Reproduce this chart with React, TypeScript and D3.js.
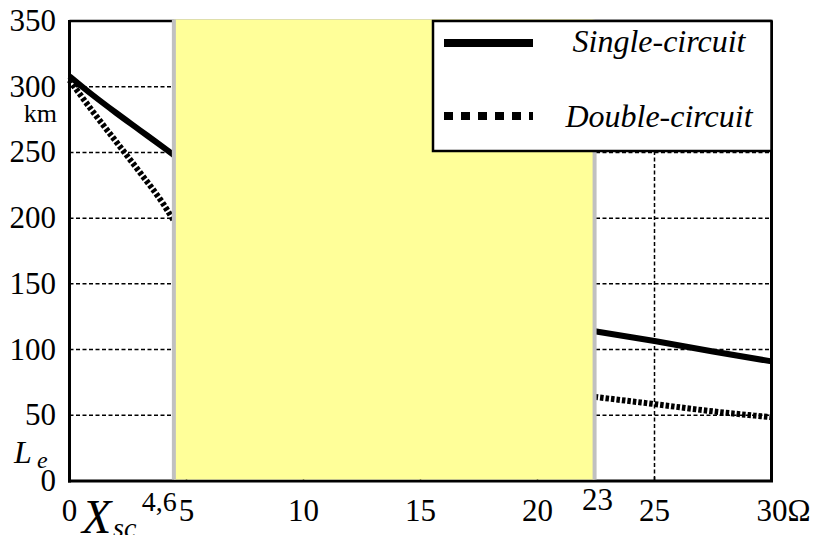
import React from "react";
import * as d3 from "d3";

// ---- data ----
const yTicks = [0, 50, 100, 150, 200, 250, 300, 350];
const xTicks = [0, 5, 10, 15, 20, 25, 30];
const xTickLabels = ["0", "5", "10", "15", "20", "25", "30Ω"];
const gridX = [25];
const gridY = [50, 100, 150, 200, 250, 300];

// excluded (shaded) band in Xsc, Ω
const bandStart = 4.46;
const bandEnd = 22.44;
const bandLabels = ["4,6", "23"];

// Single-circuit: left and right segments
const singleLeftX = [0, 1, 2, 3, 4, 4.46];
const singleLeftY = [308, 293.5, 280, 267, 254, 248];
const singleRightX = [22.44, 25, 27.5, 30];
const singleRightY = [114, 106.5, 98.5, 91];

// Double-circuit
const doubleLeftX = [0, 1, 2, 3, 4, 4.46];
const doubleLeftY = [305, 281, 258, 235, 211, 198];
const doubleRightX = [22.44, 25, 27.5, 30];
const doubleRightY = [64, 58.5, 53, 48.5];

const legendLabels = ["Single-circuit", "Double-circuit"];

const W = 817;
const H = 535;
const serif = "Liberation Serif, DejaVu Serif, Times New Roman, serif";

export default function App() {
  const x = d3.scaleLinear().domain([0, 30]).range([69.5, 771.5]);
  const y = d3.scaleLinear().domain([0, 350]).range([481, 21]);

  const line = d3
    .line<[number, number]>()
    .x((d) => x(d[0]))
    .y((d) => y(d[1]))
    .curve(d3.curveMonotoneX);

  const zip = (a: number[], b: number[]) => a.map((v, i) => [v, b[i]] as [number, number]);

  const x0 = x(0), x1 = x(30), y0 = y(0), y1 = y(350);

  return (
    <div style={{ position: "absolute", left: 0, top: 0 }}>
      <svg width={W} height={H} style={{ display: "block", background: "#fff", fontFamily: serif }}>
        {/* grid */}
        {gridY.map((v) => (
          <line key={"gy" + v} x1={x0} x2={x1} y1={y(v)} y2={y(v)} stroke="#000" strokeWidth={1.5} strokeDasharray="4,2.5" />
        ))}
        {gridX.map((v) => (
          <line key={"gx" + v} x1={x(v)} x2={x(v)} y1={y1} y2={y0} stroke="#000" strokeWidth={1.5} strokeDasharray="4,2.5" />
        ))}

        {/* frame */}
        <line x1={x0} x2={x1} y1={y1} y2={y1} stroke="#000" strokeWidth={2.5} />
        <line x1={x1} x2={x1} y1={y1} y2={y0} stroke="#000" strokeWidth={3} />
        <line x1={x0} x2={x0} y1={y1 - 1} y2={y0 + 1.5} stroke="#000" strokeWidth={3} />
        <line x1={x0 - 1.5} x2={x1 + 1.5} y1={y0} y2={y0} stroke="#000" strokeWidth={3} />
        {xTicks.map((v) => (
          <line key={"xt" + v} x1={x(v)} x2={x(v)} y1={y0} y2={y0 - 4} stroke="#000" strokeWidth={1.5} />
        ))}

        {/* curves */}
        <path d={line(zip(singleLeftX, singleLeftY)) || ""} fill="none" stroke="#000" strokeWidth={6} />
        <path d={line(zip(singleRightX, singleRightY)) || ""} fill="none" stroke="#000" strokeWidth={6} />
        <path d={line(zip(doubleLeftX, doubleLeftY)) || ""} fill="none" stroke="#000" strokeWidth={6} strokeDasharray="3.5,2" />
        <path d={line(zip(doubleRightX, doubleRightY)) || ""} fill="none" stroke="#000" strokeWidth={6} strokeDasharray="3.5,2" />

        {/* shaded band */}
        <rect x={x(bandStart)} y={y1 - 1.5} width={x(bandEnd) - x(bandStart)} height={y0 - y1} fill="#ffff99" />
        <line x1={x(bandStart)} x2={x(bandStart)} y1={y1 - 1.5} y2={y0 - 1.5} stroke="#c0c0c0" strokeWidth={4} />
        <line x1={x(bandEnd)} x2={x(bandEnd)} y1={y1 - 1.5} y2={y0 - 1.5} stroke="#c0c0c0" strokeWidth={4} />

        {/* legend */}
        <rect x={433} y={y1} width={x1 - 433} height={130} fill="#fff" stroke="#000" strokeWidth={2.5} />
        <line x1={444} x2={533} y1={43} y2={43} stroke="#000" strokeWidth={8} />
        <line x1={444} x2={533} y1={116} y2={116} stroke="#000" strokeWidth={8} strokeDasharray="9,8" />
        <text x={659} y={52} textAnchor="middle" fontFamily={serif} fontStyle="italic" fontSize={32}>{legendLabels[0]}</text>
        <text x={659} y={127} textAnchor="middle" fontFamily={serif} fontStyle="italic" fontSize={32}>{legendLabels[1]}</text>

        {/* y tick labels */}
        {yTicks.map((v) => (
          <text key={"yl" + v} x={56} y={y(v) + 10} textAnchor="end" fontFamily={serif} fontSize={31}>{v}</text>
        ))}
        <text x={57} y={122} textAnchor="end" fontFamily={serif} fontSize={26}>km</text>
        <text x={14} y={463} fontFamily={serif} fontStyle="italic" fontSize={32}>L</text>
        <text x={37} y={468} fontFamily={serif} fontStyle="italic" fontSize={24}>e</text>

        {/* x tick labels */}
        {xTicks.map((v, i) =>
          v === 30 ? (
            <text key={"xl" + v} x={x(v) - 15} y={521} textAnchor="start" fontFamily={serif} fontSize={31}>{xTickLabels[i]}</text>
          ) : (
            <text key={"xl" + v} x={x(v)} y={521} textAnchor="middle" fontFamily={serif} fontSize={31}>{xTickLabels[i]}</text>
          )
        )}
        <text x={x(bandStart) + 3} y={511} textAnchor="end" fontFamily={serif} fontSize={28}>{bandLabels[0]}</text>
        <text x={x(bandEnd) + 3} y={510} textAnchor="middle" fontFamily={serif} fontSize={31}>{bandLabels[1]}</text>
        <text x={82} y={533} fontFamily={serif} fontStyle="italic" fontSize={48}>X</text>
        <text x={113} y={537} fontFamily={serif} fontStyle="italic" fontSize={28}>sc</text>
      </svg>
    </div>
  );
}
